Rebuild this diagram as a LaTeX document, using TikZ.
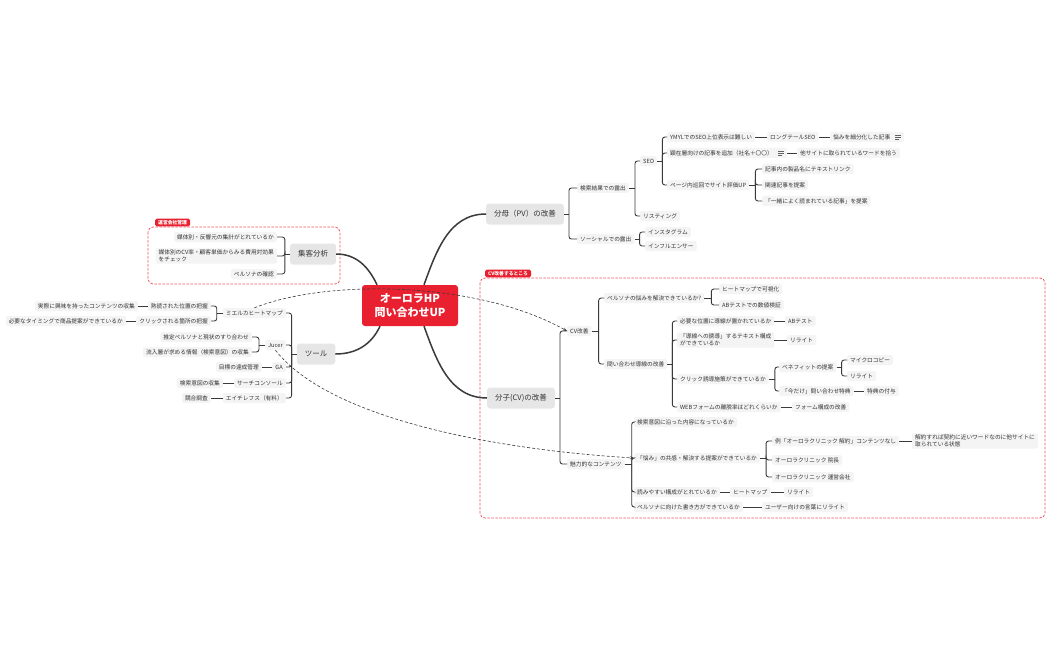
\documentclass[tikz,border=0pt]{standalone}
\usepackage{fontspec}
\setmainfont{Noto Sans CJK JP}
\usetikzlibrary{calc,arrows.meta}
\definecolor{linec}{HTML}{3A3A3A}
\definecolor{leafc}{HTML}{F4F4F4}
\definecolor{mainc}{HTML}{E6E6E6}
\definecolor{textc}{HTML}{333333}
\definecolor{rootc}{HTML}{E8202F}
\definecolor{framec}{HTML}{F05560}
\newcommand\rkids[3]{\draw[tree] (#1.east) -- ++(#2,0) coordinate (#1-b);
  \foreach \c in {#3} {\draw[tree,rounded corners=2.5pt] (#1-b) |- (\c.west);}}
\newcommand\lkids[3]{\draw[tree] (#1.west) -- ++(-#2,0) coordinate (#1-b);
  \foreach \c in {#3} {\draw[tree,rounded corners=2.5pt] (#1-b) |- (\c.east);}}
\newcommand\noteicon[1]{\draw[linec!80,line width=0.5pt] ($(#1.east)+(-9,-2)$) -- ++(6,0)
  ($(#1.east)+(-9,0)$) -- ++(6,0) ($(#1.east)+(-9,2)$) -- ++(4,0);}
\begin{document}
\begin{tikzpicture}[x=1pt,y=-1pt,
  leaf/.style={fill=leafc,rounded corners=1.5pt,inner xsep=3pt,inner ysep=1.6pt,
    font=\fontsize{5.7}{7}\selectfont,text=textc,minimum height=10pt,align=left},
  mainnode/.style={fill=mainc,rounded corners=3pt,inner xsep=8pt,minimum height=21pt,
    font=\fontsize{7.5}{9}\selectfont,text=textc},
  rootnode/.style={fill=rootc,rounded corners=3pt,minimum width=96pt,minimum height=41pt,
    font=\fontsize{11}{14}\selectfont\bfseries,text=white,align=center},
  tree/.style={draw=linec,line width=0.9pt},
  mainline/.style={draw=linec,line width=1.5pt},
  rel/.style={draw=linec,line width=0.6pt,dash pattern=on 3pt off 2pt,-{Stealth[length=4pt,width=3pt]}},
  frame/.style={draw=framec,line width=0.8pt,dash pattern=on 2.5pt off 1.5pt,rounded corners=5pt},
  tag/.style={fill=rootc,rounded corners=1.5pt,text=white,inner xsep=3pt,inner ysep=1.5pt,
    font=\fontsize{4.8}{5.5}\selectfont\bfseries}
]
\useasboundingbox (0,0) rectangle (1050,650);
\fill[white] (0,0) rectangle (1050,650);

% frames
\draw[frame] (148,227) rectangle (340,284);
\node[tag,anchor=south west] (tg1) at (155,226.5) {運営会社管理};
\draw[frame] (480,278) rectangle (1045,518);
\node[tag,anchor=south west] (tg2) at (485,277.5) {CV改善するところ};

% root and main
\node[rootnode] (root) at (410,305.5) {オーロラHP\\問い合わせUP};
\node[mainnode] (pv) at (525,214) {分母（PV）の改善};
\node[mainnode] (cv) at (521,398) {分子(CV)の改善};
\node[mainnode] (ka) at (313,254) {集客分析};
\node[mainnode] (tl) at (316,354) {ツール};

\draw[mainline] (ka.east) to[out=0,in=115] ([xshift=-33]root.north);
\draw[mainline] (pv.west) to[out=180,in=70] ([xshift=14]root.north);
\draw[mainline] (cv.west) to[out=180,in=-70] ([xshift=14]root.south);
\draw[mainline] (tl.east) to[out=0,in=-115] ([xshift=-30]root.south);

% 集客分析
\node[leaf,anchor=east] (m1) at (277,237) {媒体別・反響元の集計がとれているか};
\node[leaf,anchor=east] (m2) at (277,256) {媒体別のCV率・顧客単価からみる費用対効果\\をチェック};
\node[leaf,anchor=east] (m3) at (277,274) {ペルソナの確認};
\lkids{ka}{5}{m1,m2,m3}

% ツール
\node[leaf,anchor=east] (t1) at (286,313) {ミエルカヒートマップ};
\node[leaf,anchor=east] (t2) at (286,345) {Jucer};
\node[leaf,anchor=east] (t3) at (286,367) {GA};
\node[leaf,anchor=east] (t4) at (286,383) {サーチコンソール};
\node[leaf,anchor=east] (t5) at (286,398) {エイチレフス（有料）};
\lkids{tl}{5}{t1,t2,t3,t4,t5}
\node[leaf,anchor=east] (h1) at (211,306) {熟読された位置の把握};
\node[leaf,anchor=east] (h2) at (211,321) {クリックされる箇所の把握};
\lkids{t1}{6}{h1,h2}
\node[leaf,anchor=east] (h1a) at (138,306) {実際に興味を持ったコンテンツの収集};
\node[leaf,anchor=east] (h2a) at (126,321) {必要なタイミングで商品提案ができているか};
\draw[tree] (h1.west) -- (h1a.east);
\draw[tree] (h2.west) -- (h2a.east);
\node[leaf,anchor=east] (j1) at (252,337) {推定ペルソナと現状のすり合わせ};
\node[leaf,anchor=east] (j2) at (252,352) {流入層が求める情報（検索意図）の収集};
\lkids{t2}{6}{j1,j2}
\node[leaf,anchor=east] (g1) at (262,367) {目標の達成管理};
\draw[tree] (t3.west) -- (g1.east);
\node[leaf,anchor=east] (sc1) at (223,383) {検索意図の収集};
\draw[tree] (t4.west) -- (sc1.east);
\node[leaf,anchor=east] (e1) at (211,398) {競合調査};
\draw[tree] (t5.west) -- (e1.east);

% PV
\node[leaf,anchor=west] (s1) at (577,188) {検索結果での露出};
\node[leaf,anchor=west] (s2) at (577,239) {ソーシャルでの露出};
\rkids{pv}{5}{s1,s2}
\node[leaf,anchor=west] (seo) at (640,161) {SEO};
\node[leaf,anchor=west] (lst) at (640,216) {リスティング};
\rkids{s1}{6}{seo,lst}
\node[leaf,anchor=west] (ig) at (645,232) {インスタグラム};
\node[leaf,anchor=west] (inf) at (645,246) {インフルエンサー};
\rkids{s2}{5}{ig,inf}
\node[leaf,anchor=west] (y1) at (667,137) {YMYLでのSEO上位表示は難しい};
\node[leaf,anchor=west] (y2) at (667,153) {顕在層向けの記事を追加（社名＋〇〇）\hspace{11pt}};
\node[leaf,anchor=west] (y3) at (667,185) {ページ内巡回でサイト評価UP};
\rkids{seo}{5}{y1,y2,y3}
\noteicon{y2}
\node[leaf,anchor=west] (lt) at (767,137) {ロングテールSEO};
\draw[tree] (y1.east) -- (lt.west);
\node[leaf,anchor=west] (nk) at (830,137) {悩みを細分化した記事\hspace{11pt}};
\draw[tree] (lt.east) -- (nk.west);
\noteicon{nk}
\node[leaf,anchor=west] (ts) at (797,153) {他サイトに取られているワードを拾う};
\draw[tree] (y2.east) -- (ts.west);
\node[leaf,anchor=west] (k1) at (762,169) {記事内の製品名にテキストリンク};
\node[leaf,anchor=west] (k2) at (762,185) {関連記事を提案};
\node[leaf,anchor=west] (k3) at (762,201) {「一緒によく読まれている記事」を提案};
\rkids{y3}{6}{k1,k2,k3}

% CV
\node[leaf,anchor=west] (c1) at (567,331) {CV改善};
\node[leaf,anchor=west] (c2) at (567,464) {魅力的なコンテンツ};
\rkids{cv}{5}{c1,c2}
\node[leaf,anchor=west] (p1) at (604,298) {ペルソナの悩みを解決できているか?};
\node[leaf,anchor=west] (p2) at (604,364) {問い合わせ導線の改善};
\rkids{c1}{7}{p1,p2}
\node[leaf,anchor=west] (p1a) at (719,289) {ヒートマップで可視化};
\node[leaf,anchor=west] (p1b) at (719,305) {ABテストでの数値検証};
\rkids{p1}{7}{p1a,p1b}
\node[leaf,anchor=west] (q1) at (677,321) {必要な位置に導線が置かれているか};
\node[leaf,anchor=west] (q2) at (677,340) {「導線への誘導」するテキスト構成\\ができているか};
\node[leaf,anchor=west] (q3) at (677,379) {クリック誘導施策ができているか};
\node[leaf,anchor=west] (q4) at (677,407) {WEBフォームの離脱率はどれくらいか};
\rkids{p2}{5}{q1,q2,q3,q4}
\node[leaf,anchor=west] (q1a) at (785,321) {ABテスト};
\draw[tree] (q1.east) -- (q1a.west);
\node[leaf,anchor=west] (q2a) at (787,340) {リライト};
\draw[tree] (q2.east) -- (q2a.west);
\node[leaf,anchor=west] (r1) at (779,367) {ベネフィットの提案};
\node[leaf,anchor=west] (r2) at (779,391) {「今だけ」問い合わせ特典};
\rkids{q3}{6}{r1,r2}
\node[leaf,anchor=west] (r1a) at (847,360) {マイクロコピー};
\node[leaf,anchor=west] (r1b) at (847,376) {リライト};
\rkids{r1}{5}{r1a,r1b}
\node[leaf,anchor=west] (r2a) at (864,391) {特典の付与};
\draw[tree] (r2.east) -- (r2a.west);
\node[leaf,anchor=west] (q4a) at (792,407) {フォーム構成の改善};
\draw[tree] (q4.east) -- (q4a.west);

\node[leaf,anchor=west] (n1) at (634,422) {検索意図に沿った内容になっているか};
\node[leaf,anchor=west] (n2) at (634,458) {「悩み」の共感・解決する提案ができているか};
\node[leaf,anchor=west] (n3) at (634,492) {読みやすい構成がとれているか};
\node[leaf,anchor=west] (n4) at (634,507) {ペルソナに向けた書き方ができているか};
\rkids{c2}{7}{n1,n2,n3,n4}
\node[leaf,anchor=west] (o1) at (772,441) {例「オーロラクリニック 解約」コンテンツなし};
\node[leaf,anchor=west] (o2) at (772,460) {オーロラクリニック 院長};
\node[leaf,anchor=west] (o3) at (772,477) {オーロラクリニック 運営会社};
\rkids{n2}{6}{o1,o2,o3}
\node[leaf,anchor=west] (o1a) at (912,441) {解約すれば契約に近いワードなのに他サイトに\\取られている状態};
\draw[tree] (o1.east) -- (o1a.west);
\node[leaf,anchor=west] (n3a) at (730,492) {ヒートマップ};
\draw[tree] (n3.east) -- (n3a.west);
\node[leaf,anchor=west] (n3b) at (784,492) {リライト};
\draw[tree] (n3a.east) -- (n3b.west);
\node[leaf,anchor=west] (n4a) at (762,507) {ユーザー向けの言葉にリライト};
\draw[tree] (n4.east) -- (n4a.west);

% relations
\draw[rel] (t1.north) .. controls (330,278) and (480,282) .. (c1.west);
\draw[rel] (t2.south) .. controls (330,420) and (500,450) .. (n2.west);
\end{tikzpicture}
\end{document}
